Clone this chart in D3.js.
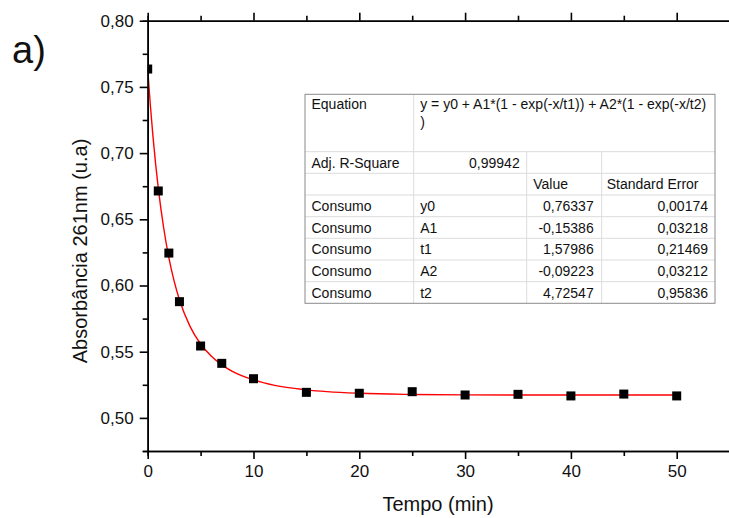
<!DOCTYPE html>
<html>
<head>
<meta charset="utf-8">
<script src="https://cdn.jsdelivr.net/npm/d3@7"></script>
<style>
  html, body { margin: 0; padding: 0; background: #fff; }
  svg { display: block; font-family: "Liberation Sans", Arial, sans-serif; }
</style>
</head>
<body>
<svg id="chart" width="729" height="518"></svg>
<script>
// ---- Data ----
const timeMin = [0, 1, 2, 3, 5, 7, 10, 15, 20, 25, 30, 35, 40, 45, 50];
const absorbance = [0.7635, 0.6714, 0.6245, 0.5878, 0.5543, 0.5412, 0.5296, 0.5193, 0.5186, 0.5198, 0.5173, 0.5178, 0.5166, 0.5180, 0.5166];

// fitted curve
const fitX = [0, 0.25, 0.5, 0.75, 1, 1.5, 2, 2.5, 3, 4, 5, 6, 7, 8, 10, 12, 15, 20, 25, 30, 40, 50];
const fitY = [0.7634, 0.7361, 0.7124, 0.6917, 0.6736, 0.6440, 0.6211, 0.6033, 0.5892, 0.5691, 0.5558, 0.5467, 0.5401, 0.5352, 0.5287, 0.5246, 0.5212, 0.5186, 0.5177, 0.5174, 0.5173, 0.5173];

const xMajorTicks = [0, 10, 20, 30, 40, 50];
const xMinorTicks = [5, 15, 25, 35, 45, 55];
const yMajorTicks = [0.50, 0.55, 0.60, 0.65, 0.70, 0.75, 0.80];
const yMinorTicks = [0.475, 0.525, 0.575, 0.625, 0.675, 0.725, 0.775];

const equationLine1 = "y = y0 + A1*(1 - exp(-x/t1)) + A2*(1 - exp(-x/t2)";
const equationLine2 = ")";
const adjR2 = "0,99942";
const headerCols = ["Value", "Standard Error"];
const rowLabels = ["Consumo", "Consumo", "Consumo", "Consumo", "Consumo"];
const paramNames = ["y0", "A1", "t1", "A2", "t2"];
const paramValues = ["0,76337", "-0,15386", "1,57986", "-0,09223", "4,72547"];
const paramErrors = ["0,00174", "0,03218", "0,21469", "0,03212", "0,95836"];

// ---- Layout ----
const svg = d3.select("#chart");
const x = d3.scaleLinear().domain([0, 55]).range([147.7, 729.6]);
const y = d3.scaleLinear().domain([0.475, 0.80]).range([451, 20.7]);
const locale = d3.formatLocale({decimal: ",", thousands: ".", grouping: [3], currency: ["", ""]});
const fmtY = locale.format(".2f");

svg.append("defs").append("clipPath").attr("id", "plotClip")
  .append("rect")
  .attr("x", x(0)).attr("y", y(0.80))
  .attr("width", x(55) - x(0)).attr("height", y(0.475) - y(0.80));

const plot = svg.append("g").attr("clip-path", "url(#plotClip)");

// fit line
const line = d3.line().x((d, i) => x(fitX[i])).y((d, i) => y(fitY[i])).curve(d3.curveMonotoneX);
plot.append("path")
  .datum(fitX)
  .attr("d", line)
  .attr("fill", "none")
  .attr("stroke", "#ff0000")
  .attr("stroke-width", 1.4);

// points
const sq = 9;
plot.selectAll("rect.pt")
  .data(timeMin)
  .join("rect")
  .attr("class", "pt")
  .attr("x", (d) => x(d) - sq / 2)
  .attr("y", (d, i) => y(absorbance[i]) - sq / 2)
  .attr("width", sq).attr("height", sq)
  .attr("fill", "#000");

// ---- Axes ----
function styleAxis(g) {
  g.select(".domain").attr("stroke", "#000").attr("stroke-width", 1.6);
  g.selectAll(".tick line").attr("stroke", "#000").attr("stroke-width", 1.6);
  g.selectAll(".tick text").attr("fill", "#111").attr("font-size", 17)
    .attr("font-family", "Liberation Sans, Arial, sans-serif");
}

// bottom
const gxMinor = svg.append("g").attr("transform", `translate(0,${y(0.475)})`)
  .call(d3.axisBottom(x).tickValues(xMinorTicks).tickSize(5).tickFormat(""));
styleAxis(gxMinor);
const gx = svg.append("g").attr("transform", `translate(0,${y(0.475)})`)
  .call(d3.axisBottom(x).tickValues(xMajorTicks).tickSize(8).tickPadding(6).tickSizeOuter(0));
styleAxis(gx);

// top
const gtMinor = svg.append("g").attr("transform", `translate(0,${y(0.80)})`)
  .call(d3.axisTop(x).tickValues(xMinorTicks).tickSize(5).tickFormat(""));
styleAxis(gtMinor);
const gt = svg.append("g").attr("transform", `translate(0,${y(0.80)})`)
  .call(d3.axisTop(x).tickValues(xMajorTicks).tickSize(8).tickFormat("").tickSizeOuter(0));
styleAxis(gt);

// left
const gyMinor = svg.append("g").attr("transform", `translate(${x(0)},0)`)
  .call(d3.axisLeft(y).tickValues(yMinorTicks).tickSize(5).tickFormat(""));
styleAxis(gyMinor);
const gy = svg.append("g").attr("transform", `translate(${x(0)},0)`)
  .call(d3.axisLeft(y).tickValues(yMajorTicks).tickSize(8).tickPadding(6).tickFormat(fmtY).tickSizeOuter(0));
styleAxis(gy);

// axis titles
svg.append("text")
  .attr("x", 438).attr("y", 511)
  .attr("text-anchor", "middle")
  .attr("font-size", 20).attr("fill", "#111")
  .text("Tempo (min)");

svg.append("text")
  .attr("transform", "translate(87,251) rotate(-90)")
  .attr("text-anchor", "middle")
  .attr("font-size", 20).attr("fill", "#111")
  .text("Absorbância 261nm (u.a)");

// panel label
svg.append("text")
  .attr("x", 12).attr("y", 63)
  .attr("font-size", 38).attr("fill", "#111")
  .text("a)");

// ---- Results table ----
const tb = svg.append("g").attr("font-size", 14).attr("fill", "#111");
const colX = [305, 413.7, 526.7, 601.7, 715];
const rowY = [94.3, 151.7, 173.3, 195, 216.7, 238.3, 260, 281.7, 303.3];
const gridColor = "#dcdcdc";

tb.append("rect")
  .attr("x", colX[0]).attr("y", rowY[0])
  .attr("width", colX[4] - colX[0]).attr("height", rowY[8] - rowY[0])
  .attr("fill", "#fff");

// horizontal grid lines
for (let i = 1; i < rowY.length - 1; i++) {
  tb.append("line")
    .attr("x1", colX[0]).attr("x2", colX[4])
    .attr("y1", rowY[i]).attr("y2", rowY[i])
    .attr("stroke", gridColor).attr("stroke-width", 1);
}
// vertical grid lines
tb.append("line").attr("x1", colX[1]).attr("x2", colX[1]).attr("y1", rowY[0]).attr("y2", rowY[8])
  .attr("stroke", gridColor).attr("stroke-width", 1);
[colX[2], colX[3]].forEach(cx => {
  tb.append("line").attr("x1", cx).attr("x2", cx).attr("y1", rowY[1]).attr("y2", rowY[8])
    .attr("stroke", gridColor).attr("stroke-width", 1);
});
// outer border
tb.append("rect")
  .attr("x", colX[0]).attr("y", rowY[0])
  .attr("width", colX[4] - colX[0]).attr("height", rowY[8] - rowY[0])
  .attr("fill", "none").attr("stroke", "#8a8a8a").attr("stroke-width", 1);

const padL = 6.5, padR = 7;
function cellY(r) { return (rowY[r] + rowY[r + 1]) / 2 + 5; }

// Equation row
tb.append("text").attr("x", colX[0] + padL).attr("y", 109).text("Equation");
tb.append("text").attr("x", colX[1] + padL).attr("y", 109).text(equationLine1);
tb.append("text").attr("x", colX[1] + padL).attr("y", 127).text(equationLine2);

// Adj R-square row
tb.append("text").attr("x", colX[0] + padL).attr("y", cellY(1)).text("Adj. R-Square");
tb.append("text").attr("x", colX[2] - padR).attr("y", cellY(1)).attr("text-anchor", "end").text(adjR2);

// header row
tb.append("text").attr("x", colX[2] + padL).attr("y", cellY(2)).text(headerCols[0]);
tb.append("text").attr("x", colX[3] + padL - 1.5).attr("y", cellY(2)).text(headerCols[1]);

// parameter rows
paramNames.forEach((p, i) => {
  const r = i + 3;
  tb.append("text").attr("x", colX[0] + padL).attr("y", cellY(r)).text(rowLabels[i]);
  tb.append("text").attr("x", colX[1] + padL).attr("y", cellY(r)).text(p);
  tb.append("text").attr("x", colX[3] - padR - 1).attr("y", cellY(r)).attr("text-anchor", "end").text(paramValues[i]);
  tb.append("text").attr("x", colX[4] - padR).attr("y", cellY(r)).attr("text-anchor", "end").text(paramErrors[i]);
});
</script>
</body>
</html>
